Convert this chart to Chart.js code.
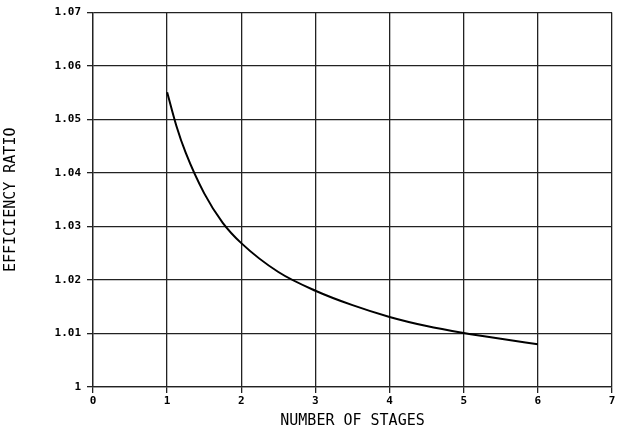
<!DOCTYPE html>
<html>
<head>
<meta charset="utf-8">
<script src="https://cdn.jsdelivr.net/npm/chart.js@4/dist/chart.umd.min.js"></script>
<style>
  html, body { margin: 0; padding: 0; background: #fff; }
  #wrap { width: 621px; height: 434px; }
</style>
</head>
<body>
<div id="wrap"><canvas id="stages-chart" width="621" height="434"></canvas></div>
<script>
// values
const stages = [1, 1.125, 1.25, 1.5, 1.75, 2, 2.5, 3, 3.5, 4, 4.5, 5, 5.5, 6];
const efficiency = [1.0551, 1.0488, 1.0438, 1.0362, 1.0307, 1.0269, 1.0215, 1.018, 1.0153, 1.0131, 1.0114, 1.0101, 1.009, 1.008];
const xTicks = [0, 1, 2, 3, 4, 5, 6, 7];
const yTicks = [1, 1.01, 1.02, 1.03, 1.04, 1.05, 1.06, 1.07];

const points = stages.map((s, i) => ({ x: s, y: efficiency[i] }));
const tickFont = { family: "DejaVu Sans Mono", size: 11, weight: "bold" };
const titleFont = { family: "DejaVu Sans Mono", size: 15 };

const ctx = document.getElementById("stages-chart").getContext("2d");
new Chart(ctx, {
  type: "line",
  data: {
    datasets: [
      {
        data: points,
        borderColor: "#000",
        borderWidth: 2,
        pointRadius: 0,
        cubicInterpolationMode: "monotone",
        fill: false,
      },
    ],
  },
  options: {
    responsive: false,
    animation: false,
    layout: { padding: { top: 12, right: 9, left: 0, bottom: 0 } },
    plugins: { legend: { display: false }, tooltip: { enabled: false } },
    scales: {
      x: {
        type: "linear",
        min: 0,
        max: 7,
        afterBuildTicks: (axis) => { axis.ticks = xTicks.map((v) => ({ value: v })); },
        afterFit: (axis) => { axis.height = 47; },
        ticks: { color: "#000", font: tickFont, padding: 2, callback: (v) => String(v) },
        grid: { color: "#222", lineWidth: 1.3, tickLength: 6 },
        border: { color: "#222", width: 1.3 },
        title: { display: true, text: "NUMBER OF STAGES", color: "#000", font: titleFont, padding: { top: 0, bottom: 4 } },
      },
      y: {
        type: "linear",
        min: 1,
        max: 1.07,
        afterBuildTicks: (axis) => { axis.ticks = yTicks.map((v) => ({ value: v })); },
        afterFit: (axis) => { axis.width = 93; },
        ticks: { color: "#000", font: tickFont, padding: 6, callback: (v) => String(Math.round(v * 100) / 100) },
        grid: { color: "#222", lineWidth: 1.3, tickLength: 6 },
        border: { color: "#222", width: 1.3 },
        title: { display: true, text: "EFFICIENCY RATIO", color: "#000", font: titleFont, padding: { top: 2, bottom: 14 } },
      },
    },
  },
});
</script>
</body>
</html>
